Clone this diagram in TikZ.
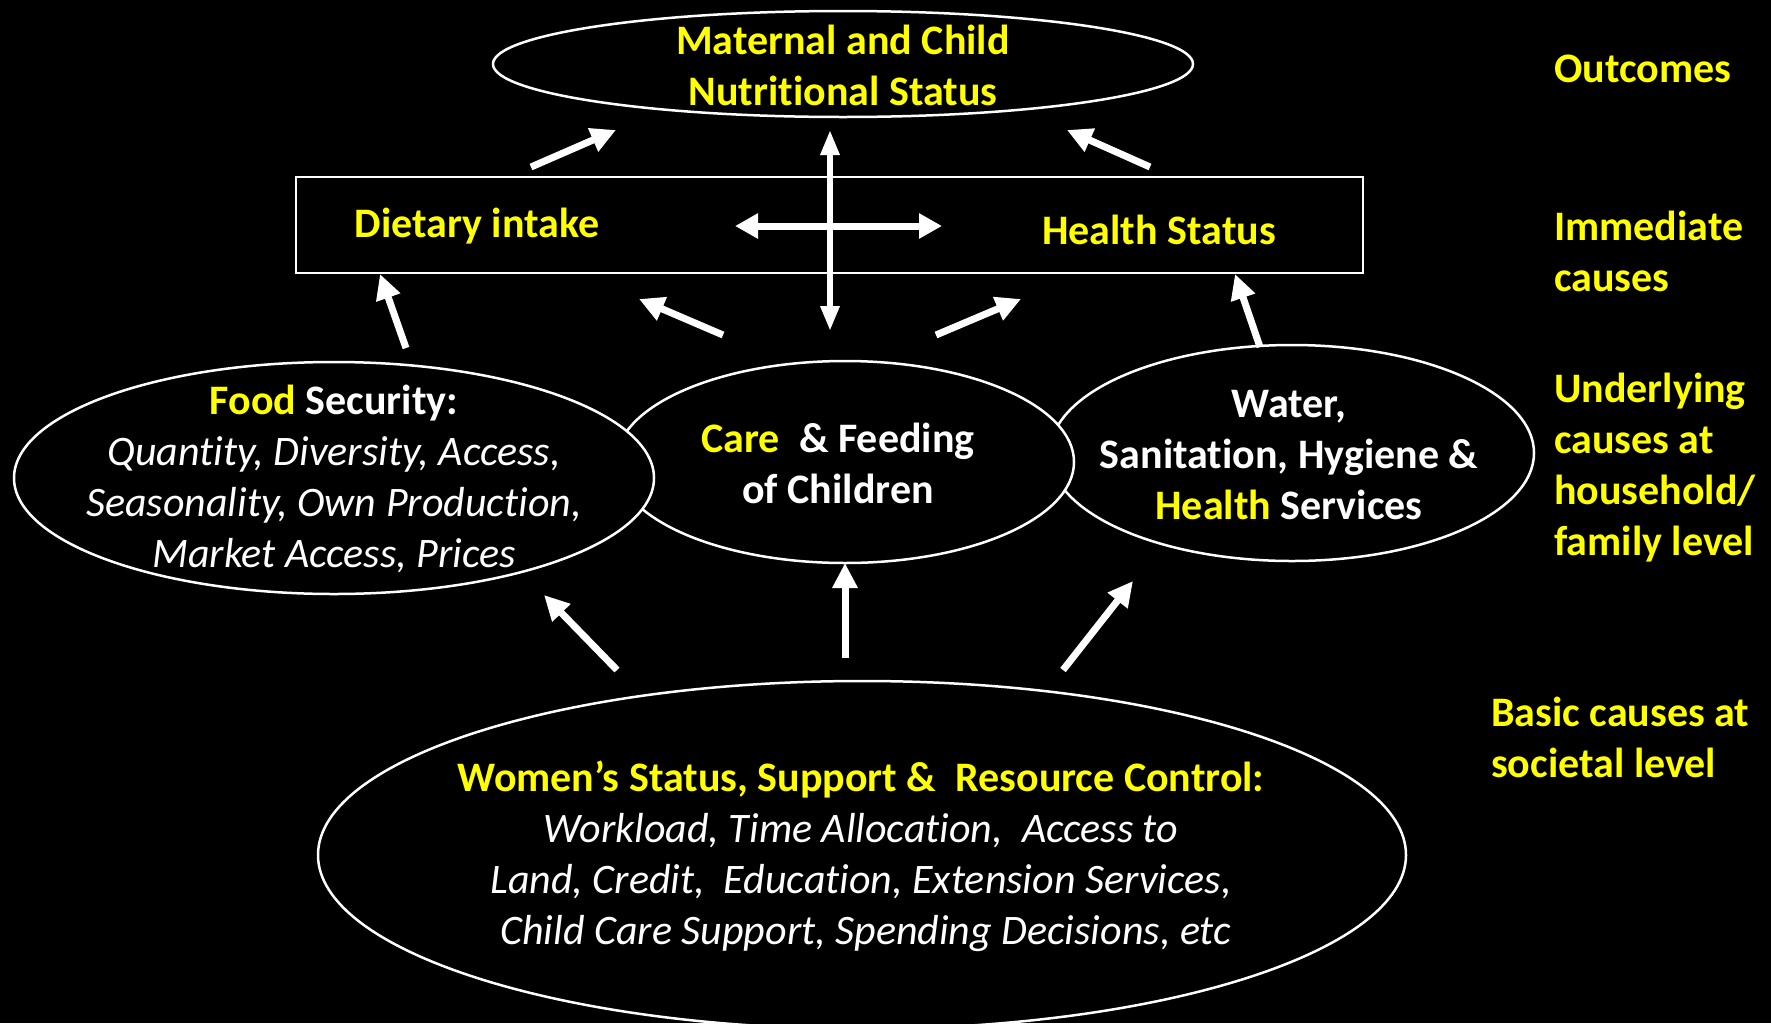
\documentclass[tikz,border=0pt]{standalone}
\usepackage{fontspec}
\setmainfont[Ligatures=NoCommon]{Carlito}
\usetikzlibrary{shapes.geometric,arrows.meta}
\definecolor{yel}{RGB}{255,255,0}
\begin{document}
\begin{tikzpicture}[x=1pt,y=-1pt,
  oval/.style={draw=white, line width=2.5pt, ellipse, inner sep=0pt, fill=black},
  txt/.style={text=white, font=\fontsize{42}{51}\selectfont, align=center, inner sep=0pt},
  btxt/.style={txt, font=\bfseries\fontsize{42}{51}\selectfont},
  lbl/.style={text=yel, font=\bfseries\fontsize{42}{51}\selectfont, align=left, inner sep=0pt, anchor=west},
  arr/.style={white, line width=7pt, -{Triangle[length=25pt,width=24pt]}},
  darr/.style={white, line width=6pt, {Triangle[length=25pt,width=18pt]}-{Triangle[length=25pt,width=18pt]}},
  harr/.style={white, line width=7pt, {Triangle[length=23pt,width=24pt]}-{Triangle[length=23pt,width=24pt]}}]
\fill[black] (0,0) rectangle (1771,1023);
\useasboundingbox (0,0) rectangle (1771,1023);

% shapes
\node[oval, minimum width=700, minimum height=106] (out) at (843,64) {};
\node[draw=white, line width=2.5pt, minimum width=1067, minimum height=96, inner sep=0pt] (imm) at (829.5,225) {};
\node[oval, minimum width=484, minimum height=216] (water) at (1292,453) {};
\node[oval, minimum width=458, minimum height=202] (care) at (845,462) {};
\node[oval, minimum width=640, minimum height=232] (food) at (334,478) {};
\node[oval, minimum width=1088, minimum height=348] (women) at (862,855) {};

% texts
\node[btxt, text=yel] (outt) at (843,65) {Maternal and Child\\Nutritional Status};
\node[btxt, text=yel] (diet) at (477,226) {Dietary intake};
\node[btxt, text=yel] (health) at (1159,230) {Health Status};
\node[txt] (foodt) at (334,479) {\textbf{\textcolor{yel}{Food} Security:}\\\textit{Quantity, Diversity, Access,}\\\textit{Seasonality, Own Production,}\\\textit{Market Access, Prices}};
\node[btxt] (caret) at (838,463) {\textcolor{yel}{Care}\ \ \& Feeding\\of Children};
\node[btxt] (watert) at (1289,455) {Water,\\Sanitation, Hygiene \&\\\textcolor{yel}{Health} Services};
\node[txt] (womt) at (861,856) {\textbf{\textcolor{yel}{Women’s Status, Support \&\ \ Resource Control:}}\\\textit{Workload, Time Allocation,\ \ Access to}\\\textit{Land, Credit,\ \ Education, Extension Services,}\\\textit{\ Child Care Support, Spending Decisions, etc}};

% level labels
\node[lbl] (l1) at (1554,69) {Outcomes};
\node[lbl] (l2) at (1554,251) {Immediate\\causes};
\node[lbl] (l3) at (1554,468) {Underlying\\causes at\\household/\\family level};
\node[lbl] (l4) at (1491,737) {Basic causes at\\societal level};

% arrow end points
\coordinate (a1s) at (531,167); \coordinate (a1e) at (616,130);
\coordinate (a3s) at (1150,167); \coordinate (a3e) at (1067,130);
\coordinate (vt) at (830,130); \coordinate (vb) at (830,331);
\coordinate (hl) at (735,226); \coordinate (hr) at (942,226);
\coordinate (a5s) at (406,348); \coordinate (a5e) at (380,274);
\coordinate (a6s) at (723,335); \coordinate (a6e) at (639,299);
\coordinate (a7s) at (936,335); \coordinate (a7e) at (1021,299);
\coordinate (a8s) at (1260,347); \coordinate (a8e) at (1235,274);
\coordinate (a9s) at (617,670); \coordinate (a9e) at (544,595);
\coordinate (a10s) at (845,658); \coordinate (a10e) at (845,563);
\coordinate (a11s) at (1063,670); \coordinate (a11e) at (1133,581);

\draw[arr] (a1s) -- (a1e);
\draw[arr] (a3s) -- (a3e);
\draw[darr] (vb) -- (vt);
\draw[harr] (hl) -- (hr);
\draw[arr] (a5s) -- (a5e);
\draw[arr] (a6s) -- (a6e);
\draw[arr] (a7s) -- (a7e);
\draw[arr] (a8s) -- (a8e);
\draw[arr] (a9s) -- (a9e);
\draw[arr] (a10s) -- (a10e);
\draw[arr] (a11s) -- (a11e);
\end{tikzpicture}
\end{document}
